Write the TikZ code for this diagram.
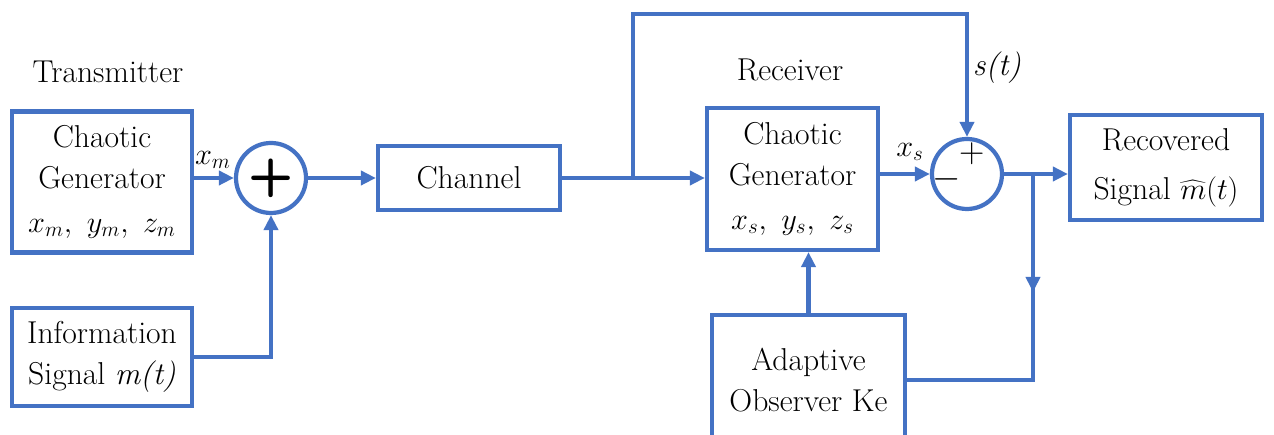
\documentclass[tikz,border=0pt]{standalone}
\usetikzlibrary{arrows.meta}
\definecolor{lineblue}{RGB}{68,114,196}
\tikzset{
  block/.style={draw=lineblue, line width=2.4pt, fill=white, align=center, inner sep=0pt,
    font=\fontsize{18}{23}\selectfont},
  summer/.style={circle, draw=lineblue, line width=2.4pt, fill=white, minimum size=1.4cm, inner sep=0pt},
  sign/.style={inner sep=0pt, font=\fontsize{20}{20}\selectfont},
  wire/.style={draw=lineblue, line width=2.4pt},
  arr/.style={wire, -{Triangle[length=0.3cm, width=0.28cm]}},
  caption/.style={font=\fontsize{18}{22}\selectfont},
  sig/.style={font=\fontsize{18}{22}\selectfont},
}

\begin{document}
\begin{tikzpicture}
\useasboundingbox (0,0) rectangle (25.48,8.7);
\clip (0,0) rectangle (25.48,8.7);
\node[block, minimum width=3.6cm, minimum height=2.82cm] (txgen) at (2.04,5.06)
  {Chaotic\\Generator\\[2pt] $x_m,\ y_m,\ z_m$};
\node[block, minimum width=3.6cm, minimum height=1.96cm] (info) at (2.04,1.56)
  {Information\\Signal \textit{m(t)}};
\node[summer] (sum1) at (5.42,5.14) {\fontsize{30}{30}\selectfont\sffamily\bfseries +};
\node[block, minimum width=3.64cm, minimum height=1.28cm] (channel) at (9.38,5.14) {Channel};
\node[block, minimum width=3.42cm, minimum height=2.84cm] (rxgen) at (15.85,5.12)
  {Chaotic\\Generator\\[2pt] $x_s,\ y_s,\ z_s$};
\node[summer] (sum2) at (19.34,5.22) {};
\node[sign] (plus) at ([xshift=0.1cm, yshift=0.4cm]sum2.center) {+};
\node[sign] (minus) at ([xshift=-0.4cm, yshift=-0.1cm]sum2.center) {$-$};
\node[block, minimum width=3.84cm, minimum height=2.1cm] (recov) at (23.32,5.35)
  {Recovered\\[5pt]Signal $\widehat{m}(t)$};
\node[block, minimum width=3.86cm, minimum height=2.6cm] (adapt) at (16.17,1.1)
  {Adaptive\\Observer Ke};
% titles and signal names
\node[caption] (txtitle) at (2.16,7.26) {Transmitter};
\node[caption] (rxtitle) at (15.8,7.3) {Receiver};
\node[sig] (xm) at (4.26,5.5) {$x_m$};
\node[sig] (xs) at (18.2,5.66) {$x_s$};
\node[sig] (st) at (19.94,7.34) {\textit{s(t)}};
% connectors
\coordinate (split) at (12.66,5.14);
\coordinate (topleft) at (12.66,8.42);
\coordinate (tap) at (20.66,5.22);
\draw[arr] (txgen.east |- sum1) -- (sum1.west);
\draw[arr] (info.east) -| (sum1.south);
\draw[arr] (sum1.east) -- (channel.west);
\draw[arr] (channel.east) -- (rxgen.west |- channel.east);
\draw[arr] (split) -- (topleft) -| (sum2.north);
\draw[arr] (rxgen.east |- sum2) -- (sum2.west);
\draw[arr] (sum2.east) -- (recov.west |- sum2);
\draw[wire] (tap) |- (adapt.east);
\draw[arr] (tap) -- ++(0,-2.36);
\draw[arr] (adapt.north) -- (adapt.north |- rxgen.south);
\end{tikzpicture}
\end{document}
